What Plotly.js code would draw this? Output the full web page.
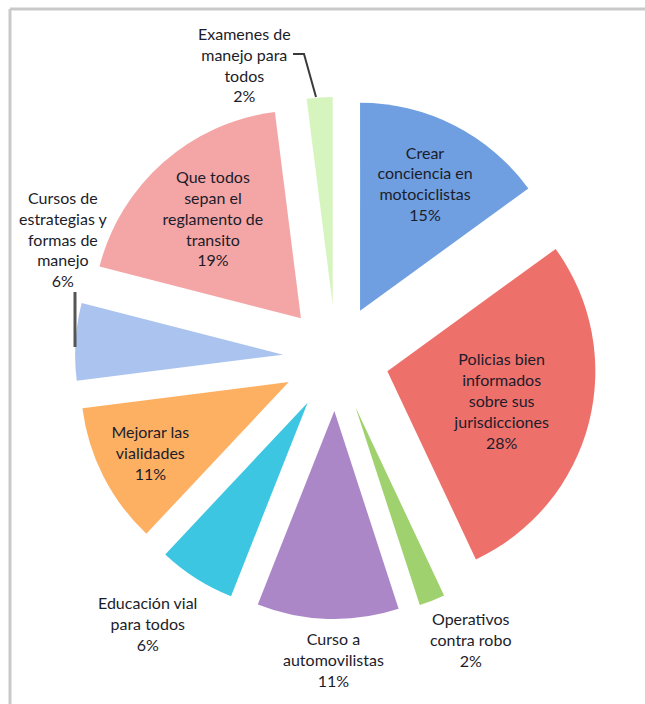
<!DOCTYPE html>
<html>
<head>
<meta charset="utf-8">
<script src="https://cdn.plot.ly/plotly-3.0.1.min.js"></script>
<style>html,body{margin:0;padding:0;background:#fff;}#chart{width:645px;height:704px;}</style>
</head>
<body>
<div id="chart"></div>
<script>
var categories = [
  "Crear<br>conciencia en<br>motociclistas",
  "Policias bien<br>informados<br>sobre sus<br>jurisdicciones",
  "Operativos<br>contra robo",
  "Curso a<br>automovilistas",
  "Educación vial<br>para todos",
  "Mejorar las<br>vialidades",
  "Cursos de<br>estrategias y<br>formas de<br>manejo",
  "Que todos<br>sepan el<br>reglamento de<br>transito",
  "Examenes de<br>manejo para<br>todos"
];
var values = [15, 28, 2, 11, 6, 11, 6, 19, 2];
var colors = ["#6f9fe0", "#ee706a", "#9fd26e", "#ab87c8", "#3cc6e2", "#fdb062", "#aac3ef", "#f4a6a6", "#d6f4be"];
var textPositions = ["inside", "inside", "none", "none", "none", "inside", "none", "inside", "none"];

// label placement for slices whose label sits outside the pie (pixel centres)
var W = 645, H = 704;
var outsideLabelPos = {
  2: [470, 639],
  3: [333, 659],
  4: [147, 623],
  6: [63, 239],
  8: [244, 64]
};

var FONT = "Lato, 'Open Sans', sans-serif";
var TXT = "#1c1c2a";

var total = values.reduce(function(a, b){ return a + b; }, 0);
function pct(v){ return Math.round(v / total * 100) + "%"; }

var trace = {
  type: "pie",
  labels: categories,
  values: values,
  sort: false,
  direction: "clockwise",
  rotation: 0,
  pull: values.map(function(){ return 0.255; }),
  marker: {colors: colors, line: {width: 0}},
  texttemplate: "%{label}<br>%{percent:.0%}",
  textposition: textPositions,
  insidetextorientation: "horizontal",
  textfont: {family: FONT, size: 16, color: TXT},
  hoverinfo: "none",
  showlegend: false,
  domain: {x: [0.1163, 0.9256], y: [0.1207, 0.8622]}
};

var annotations = Object.keys(outsideLabelPos).map(function(k){
  var i = +k, p = outsideLabelPos[k];
  return {
    xref: "paper", yref: "paper",
    x: p[0] / W, y: 1 - p[1] / H,
    xanchor: "center", yanchor: "middle",
    showarrow: false, align: "center",
    text: categories[i] + "<br>" + pct(values[i]),
    font: {family: FONT, size: 16, color: TXT}
  };
});

function px(x){ return x / W; }
function py(y){ return 1 - y / H; }

var layout = {
  width: W,
  height: H,
  margin: {l: 0, r: 0, t: 0, b: 0},
  paper_bgcolor: "#ffffff",
  showlegend: false,
  annotations: annotations,
  shapes: [
    {type: "line", xref: "paper", yref: "paper", x0: px(10), x1: 1, y0: py(9), y1: py(9), line: {color: "#c9c9c9", width: 3}},
    {type: "line", xref: "paper", yref: "paper", x0: px(10), x1: px(10), y0: 0, y1: py(9), line: {color: "#c9c9c9", width: 3}},
    {type: "path", xref: "paper", yref: "paper",
     path: "M" + px(293) + "," + py(54) + " L" + px(304) + "," + py(54) + " L" + px(316) + "," + py(97),
     line: {color: "#3a3a3a", width: 2}},
    {type: "line", xref: "paper", yref: "paper", x0: px(75), x1: px(75), y0: py(292), y1: py(347), line: {color: "#555555", width: 3}}
  ]
};

Plotly.newPlot("chart", [trace], layout, {displayModeBar: false, staticPlot: true});
</script>
</body>
</html>
